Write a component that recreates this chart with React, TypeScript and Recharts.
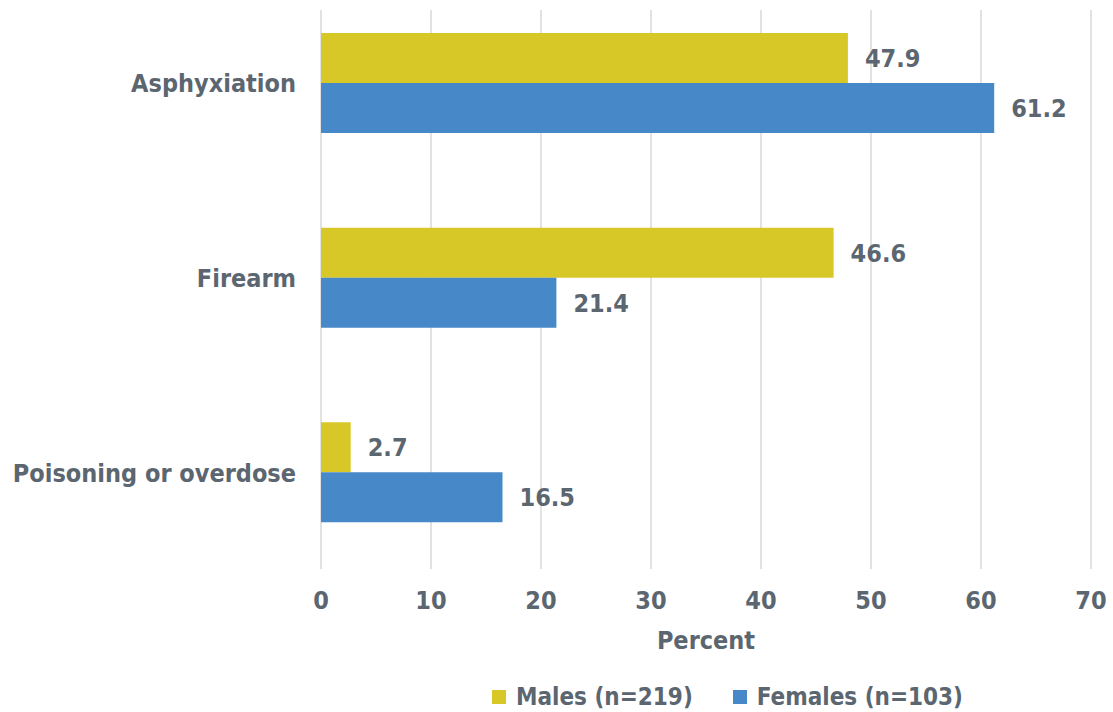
import { Bar, BarChart, CartesianGrid, LabelList, Legend, XAxis, YAxis } from "recharts";

const categories = ["Asphyxiation", "Firearm", "Poisoning or overdose"];
const males = [47.9, 46.6, 2.7];
const females = [61.2, 21.4, 16.5];
const xTicks = [0, 10, 20, 30, 40, 50, 60, 70];

const seriesNames = { males: "Males (n=219)", females: "Females (n=103)" };
const colors = { males: "#D7C727", females: "#4789C8" };

const FONT = "'DejaVu Sans Condensed', 'DejaVu Sans', sans-serif";
const TEXT = "#5B6670";
const SIZE = 25;

const rows = categories.map((name, i) => ({ name, males: males[i], females: females[i] }));

function LegendBox() {
  const items = [
    { key: "males", label: seriesNames.males, color: colors.males },
    { key: "females", label: seriesNames.females, color: colors.females },
  ];
  return (
    <div style={{ display: "flex", alignItems: "center", fontFamily: FONT, fontWeight: 700, fontSize: 24, color: TEXT }}>
      {items.map((it, i) => (
        <div key={it.key} style={{ display: "flex", alignItems: "center", marginLeft: i ? 40 : 0 }}>
          <span style={{ width: 14, height: 14, background: it.color, display: "inline-block", marginRight: 10 }} />
          <span>{it.label}</span>
        </div>
      ))}
    </div>
  );
}

export default function App() {
  return (
    <div style={{ position: "absolute", left: 0, top: 0, background: "#fff" }}>
      <BarChart
        width={1113}
        height={712}
        data={rows}
        layout="vertical"
        margin={{ top: 10, right: 22, left: 0, bottom: 0 }}
        barGap={0}
      >
        <CartesianGrid horizontal={false} stroke="#D9D9D9" strokeWidth={1.5} />
        <XAxis
          type="number"
          domain={[0, 70]}
          ticks={xTicks}
          axisLine={false}
          tickLine={false}
          tickMargin={16}
          height={100}
          tick={{ fill: TEXT, fontSize: SIZE, fontWeight: 700, fontFamily: FONT }}
          label={{
            value: "Percent",
            position: "insideBottom",
            offset: 20,
            fill: TEXT,
            fontSize: SIZE,
            fontWeight: 700,
            fontFamily: FONT,
          }}
        />
        <YAxis
          type="category"
          dataKey="name"
          width={321}
          axisLine={false}
          tickLine={false}
          tickMargin={19}
          padding={{ top: -24, bottom: -1 }}
          tick={{ fill: TEXT, fontSize: SIZE, fontWeight: 700, fontFamily: FONT }}
        />
        <Legend
          verticalAlign="bottom"
          height={43}
          content={() => <LegendBox />}
          wrapperStyle={{ left: 492, width: "auto", bottom: -14 }}
        />
        <Bar dataKey="males" name={seriesNames.males} fill={colors.males} barSize={50} isAnimationActive={false}>
          <LabelList
            dataKey="males"
            position="right"
            offset={17}
            fill={TEXT}
            fontSize={SIZE}
            fontWeight={700}
            fontFamily={FONT}
          />
        </Bar>
        <Bar dataKey="females" name={seriesNames.females} fill={colors.females} barSize={50} isAnimationActive={false}>
          <LabelList
            dataKey="females"
            position="right"
            offset={17}
            fill={TEXT}
            fontSize={SIZE}
            fontWeight={700}
            fontFamily={FONT}
          />
        </Bar>
      </BarChart>
    </div>
  );
}
